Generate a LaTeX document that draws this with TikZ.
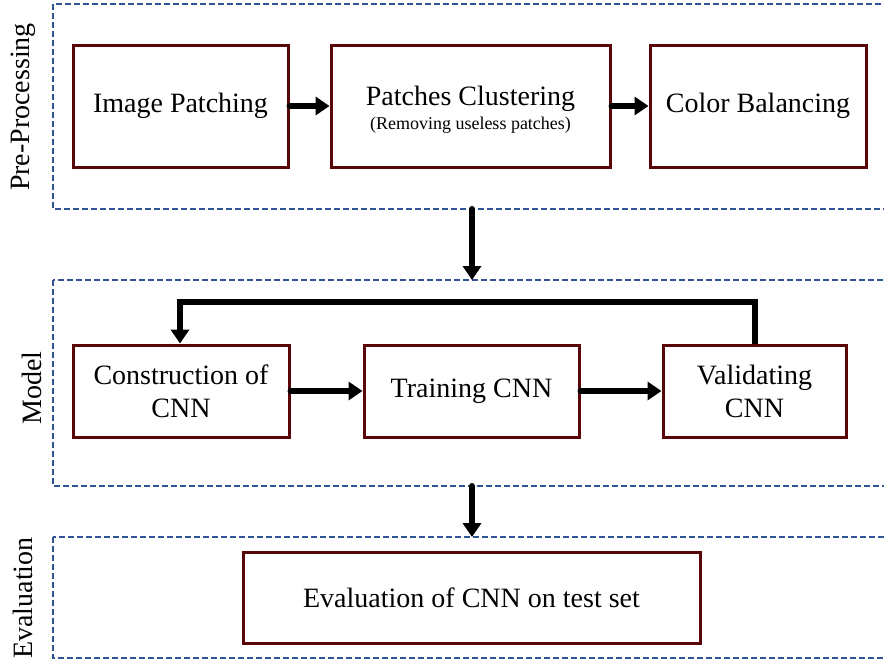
\documentclass[tikz,border=0pt]{standalone}
\usepackage{fontspec}
\setmainfont{Liberation Serif}
\usetikzlibrary{arrows.meta}
\definecolor{boxred}{HTML}{5A0508}
\definecolor{dashblue}{HTML}{2F5597}
\tikzset{
  stepbox/.style={draw=boxred, line width=3pt, fill=white, align=center, font=\fontsize{28}{33}\selectfont, inner sep=0pt},
  section/.style={draw=dashblue, line width=2pt, dash pattern=on 6pt off 3pt},
  flow/.style={line width=6pt, line cap=round, -{Triangle[length=14pt,width=18pt]}},
  sectlabel/.style={rotate=90, font=\fontsize{28}{33}\selectfont, inner sep=0pt}
}
\begin{document}
\begin{tikzpicture}[x=1pt,y=-1pt]
\useasboundingbox (0,0) rectangle (884,662);
% sections
\draw[section] (53,4) rectangle (892,209);
\draw[section] (53,280) rectangle (892,486);
\draw[section] (53,537) rectangle (892,658);
\coordinate (ppbot) at (472,209);
\coordinate (mdtop) at (472,280);
\coordinate (mdbot) at (472,486);
\coordinate (evtop) at (472,537);
% labels
\node[sectlabel] (lpp) at (23,107) {Pre-Processing};
\node[sectlabel] (lmd) at (32,388) {Model};
\node[sectlabel] (lev) at (23,598) {Evaluation};
% boxes
\node[stepbox, minimum width=215pt, minimum height=122pt] (ip) at (180.5,106) {\raisebox{-3pt}{Image Patching}};
\node[stepbox, minimum width=279pt, minimum height=122pt] (pc) at (470.5,106) {};
\node[align=center, font=\fontsize{28}{33}\selectfont, inner sep=0pt] (pctext) at (470.5,110) {Patches Clustering\\[-9pt]{\fontsize{18}{20}\selectfont (Removing useless patches)}};
\node[stepbox, minimum width=216pt, minimum height=122pt] (cb) at (758,106) {\raisebox{-3pt}{Color Balancing}};
\node[stepbox, minimum width=216pt, minimum height=92pt] (con) at (181,391) {Construction of\\CNN};
\node[stepbox, minimum width=215pt, minimum height=92pt] (tr) at (471.5,391) {Training CNN};
\node[stepbox, minimum width=183pt, minimum height=92pt] (val) at (754.5,391) {Validating\\CNN};
\node[stepbox, minimum width=457pt, minimum height=91pt] (ev) at (471.5,597.5) {Evaluation of CNN on test set};
% connectors
\draw[flow] (ip.east) -- (pc.west);
\draw[flow] (pc.east) -- (cb.west);
\draw[flow] (ppbot) -- (mdtop);
\draw[flow] (con.east) -- (tr.west);
\draw[flow] (tr.east) -- (val.west);
\draw[flow, line cap=butt] (val.north -| 755,0) -- ++(0,-42) -| (con.north -| 180,0);
\draw[flow] (mdbot) -- (evtop);
\end{tikzpicture}
\end{document}
